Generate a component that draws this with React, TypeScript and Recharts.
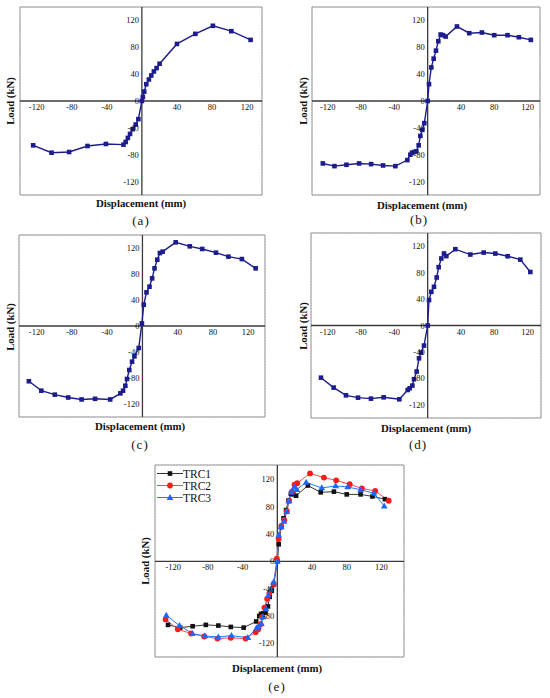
import React from 'react'
import {
  LineChart,
  Line,
  XAxis,
  YAxis,
  CartesianGrid,
  ReferenceLine,
  ReferenceArea,
  ReferenceDot,
} from 'recharts'

// tick labels and grid
const xTickLabels = [-120, -80, -40, 40, 80, 120]
const yTickLabels = [120, 80, 40, 0, -40, -80, -120]
const gridTicks = [-120, -100, -80, -60, -40, -20, 0, 20, 40, 60, 80, 100, 120]

// (a)
const aDisp = [-124, -103, -83, -62, -41, -21, -18.5, -16, -13.5, -10.5, -7, -4, 0, 1.1, 2.7, 5, 8, 10.7, 13.7, 16.8, 20.2, 40, 61, 81, 102, 124]
const aLoad = [-66, -77, -76, -67, -64, -65, -61, -55, -49, -42, -35, -27, 0, 6, 14, 25, 32, 38, 44, 49, 55.5, 85, 100, 112, 104, 91]

// (b) TRC1
const trc1Disp = [-126, -112, -97.6, -82.4, -68, -53.6, -38.8, -24.4, -20.8, -18.8, -16.4, -13.6, -10.8, -8.8, -6.4, -4, 0, 1.6, 4.4, 7.2, 10, 12.8, 15.6, 18.4, 21.6, 35.2, 50, 65.2, 80, 96, 109.6, 124]
const trc1Load = [-93, -97, -95, -93, -94, -96, -97, -88, -80, -77, -76, -75, -66, -52, -43, -33, 0, 25, 50, 63, 75, 89, 99, 98, 96, 111, 101, 102, 98, 98, 95, 91]

// (c) TRC2
const trc2Disp = [-128.8, -114.7, -99.4, -84.2, -69, -53.7, -36.6, -25, -22, -19.4, -17.5, -14.9, -11.8, -9.1, -4.2, -0.6, 1.5, 4.6, 8, 11, 13.7, 16.8, 19.8, 22.9, 37.7, 53.7, 67.8, 83.4, 97.5, 112.8, 128.4]
const trc2Load = [-85, -99.5, -105.6, -110, -113, -112, -113, -103.6, -99.5, -92, -81.5, -67.7, -54.9, -46.7, -33.8, 4, 32.8, 51.8, 60.5, 73.3, 88.7, 102, 112.3, 114.4, 128.7, 122.6, 118.5, 112.8, 106.7, 103, 88.7]

// (d) TRC3
const trc3Disp = [-128, -112.8, -98, -83.6, -68, -52.8, -34, -24, -21.6, -18.4, -16.4, -13.2, -10.4, -8, -4.4, 0, 1.6, 4.4, 7.6, 10.8, 13.2, 16.4, 19.6, 22.4, 33.2, 51.2, 67.2, 81.2, 96, 111.2, 123.2]
const trc3Load = [-79, -94, -105.7, -109.2, -110.7, -108.7, -111.7, -97.6, -95, -91, -81.3, -69.7, -49.6, -41, -30.4, 0, 38.5, 51, 58.6, 72.7, 88.3, 101.4, 109, 105, 115.5, 107.4, 110.4, 108.9, 104.8, 99.7, 81]

const SERIF = '"Liberation Serif", "DejaVu Serif", serif'
const NAVY = '#1c1c8e'

type Pt = { x: number; y: number }
type Marker = 'square' | 'circle' | 'triangle'

const toPoints = (xs: number[], ys: number[]): Pt[] => xs.map((x, i) => ({ x, y: ys[i] }))

interface SeriesDef {
  name: string
  data: Pt[]
  lineColor: string
  markColor: string
  marker: Marker
  width: number
}

const markerShape = (kind: Marker, color: string, key: string | number, cx: number, cy: number) => {
  if (kind === 'circle') return <circle key={key} cx={cx} cy={cy} r={2.9} fill={color} />
  if (kind === 'triangle')
    return (
      <polygon
        key={key}
        points={`${cx},${cy - 3.6} ${cx - 3.4},${cy + 2.4} ${cx + 3.4},${cy + 2.4}`}
        fill={color}
      />
    )
  return <rect key={key} x={cx - 2.3} y={cy - 2.3} width={4.6} height={4.6} fill={color} />
}

const makeDot = (kind: Marker, color: string) => (props: any) => {
  const { cx, cy, index } = props
  if (cx == null || cy == null) return <g key={`e-${index}`} />
  return markerShape(kind, color, `m-${index}`, cx, cy)
}

interface PanelProps {
  box: { l: number; t: number; r: number; b: number }
  xDomain: [number, number]
  yDomain: [number, number]
  series: SeriesDef[]
  tag: string
  yTitle: [number, number]
  xTitle: [number, number]
  tagPos: [number, number]
}

const tickStyle = { fontSize: 8.5, fontFamily: SERIF, fill: '#111' }

function Panel({ box, xDomain, yDomain, series, tag, yTitle, xTitle, tagPos }: PanelProps) {
  const m = 6
  const width = box.r - box.l + 2 * m
  const height = box.b - box.t + 2 * m
  return (
    <>
      <div style={{ position: 'absolute', left: box.l - m, top: box.t - m }}>
        <LineChart width={width} height={height} margin={{ top: m, right: m, bottom: m, left: m }}>
          <XAxis
            type="number"
            dataKey="x"
            domain={xDomain}
            ticks={gridTicks}
            allowDataOverflow
            tick={false}
            tickLine={false}
            axisLine={false}
            height={0}
          />
          <YAxis
            type="number"
            dataKey="y"
            domain={yDomain}
            ticks={gridTicks}
            allowDataOverflow
            tick={false}
            tickLine={false}
            axisLine={false}
            width={0}
          />
          <CartesianGrid stroke="#bdbdbd" strokeDasharray="1.5 1.5" strokeWidth={0.8} />
          <ReferenceArea
            x1={xDomain[0]}
            x2={xDomain[1]}
            y1={yDomain[0]}
            y2={yDomain[1]}
            fill="none"
            fillOpacity={0}
            stroke="#9a9a9a"
            strokeWidth={1}
          />
          <ReferenceLine x={0} stroke="#3a3a3a" strokeWidth={1.3} />
          <ReferenceLine y={0} stroke="#3a3a3a" strokeWidth={1.3} />
          {xTickLabels.map((v) => (
            <ReferenceDot
              key={`xt-${v}`}
              x={v}
              y={0}
              r={0}
              fill="none"
              stroke="none"
              label={{ value: String(v), position: 'bottom', offset: 3, ...tickStyle }}
            />
          ))}
          {yTickLabels.map((v) => (
            <ReferenceDot
              key={`yt-${v}`}
              x={0}
              y={v}
              r={0}
              fill="none"
              stroke="none"
              label={{ value: String(v), position: 'left', offset: 3, ...tickStyle }}
            />
          ))}
          {series.map((s) => (
            <Line
              key={s.name}
              data={s.data}
              dataKey="y"
              name={s.name}
              type="linear"
              stroke={s.lineColor}
              strokeWidth={s.width}
              dot={makeDot(s.marker, s.markColor)}
              activeDot={false}
              isAnimationActive={false}
            />
          ))}
        </LineChart>
      </div>
      <div
        style={{
          position: 'absolute',
          left: yTitle[0],
          top: yTitle[1],
          transform: 'translate(-50%, -50%) rotate(-90deg)',
          fontFamily: SERIF,
          fontWeight: 'bold',
          fontSize: 10.8,
          whiteSpace: 'nowrap',
          color: '#111',
        }}
      >
        Load (kN)
      </div>
      <div
        style={{
          position: 'absolute',
          left: xTitle[0],
          top: xTitle[1],
          transform: 'translate(-50%, -50%)',
          fontFamily: SERIF,
          fontWeight: 'bold',
          fontSize: 10.8,
          whiteSpace: 'nowrap',
          color: '#111',
        }}
      >
        Displacement (mm)
      </div>
      <div
        style={{
          position: 'absolute',
          left: tagPos[0],
          top: tagPos[1],
          transform: 'translate(-50%, -50%)',
          fontFamily: SERIF,
          fontSize: 13,
          letterSpacing: 1,
          whiteSpace: 'nowrap',
          color: '#111',
        }}
      >
        {tag}
      </div>
    </>
  )
}

const single = (name: string, data: Pt[]): SeriesDef[] => [
  { name, data, lineColor: NAVY, markColor: NAVY, marker: 'square', width: 1.4 },
]

const combined: SeriesDef[] = [
  { name: 'TRC1', data: toPoints(trc1Disp, trc1Load), lineColor: '#333333', markColor: '#111111', marker: 'square', width: 1 },
  { name: 'TRC2', data: toPoints(trc2Disp, trc2Load), lineColor: '#ff4d4d', markColor: '#ff1a1a', marker: 'circle', width: 1 },
  { name: 'TRC3', data: toPoints(trc3Disp, trc3Load), lineColor: '#1f7bff', markColor: '#1a66ff', marker: 'triangle', width: 1 },
]

function ComboLegend() {
  const rows = [473.5, 485.5, 497.5]
  return (
    <svg style={{ position: 'absolute', left: 150, top: 463 }} width={70} height={42}>
      {combined.map((s, i) => {
        const y = rows[i] - 463
        return (
          <g key={s.name}>
            <line x1={7} x2={33} y1={y} y2={y} stroke={s.lineColor} strokeWidth={1} />
            {markerShape(s.marker, s.markColor, s.name, 20, y)}
            <text x={33} y={y} dominantBaseline="central" fontFamily={SERIF} fontSize={11.5} fill="#111">
              {s.name}
            </text>
          </g>
        )
      })}
    </svg>
  )
}

export default function App() {
  return (
    <div style={{ position: 'absolute', left: 0, top: 0, width: 550, height: 698, background: '#fff' }}>
      <Panel
        box={{ l: 20, t: 7, r: 262, b: 195 }}
        xDomain={[-139, 137]}
        yDomain={[-140, 140]}
        series={single('a', toPoints(aDisp, aLoad))}
        tag="(a)"
        yTitle={[10, 101]}
        xTitle={[141, 203]}
        tagPos={[141, 221]}
      />
      <Panel
        box={{ l: 312, t: 7, r: 540, b: 195 }}
        xDomain={[-139, 135]}
        yDomain={[-140, 140]}
        series={single('b', toPoints(trc1Disp, trc1Load))}
        tag="(b)"
        yTitle={[303, 101]}
        xTitle={[422, 205]}
        tagPos={[419, 220]}
      />
      <Panel
        box={{ l: 19, t: 235, r: 265, b: 417 }}
        xDomain={[-140, 139]}
        yDomain={[-140, 140]}
        series={single('c', toPoints(trc2Disp, trc2Load))}
        tag="(c)"
        yTitle={[10, 327]}
        xTitle={[140, 426]}
        tagPos={[140, 445]}
      />
      <Panel
        box={{ l: 311, t: 233, r: 541, b: 418 }}
        xDomain={[-140, 136]}
        yDomain={[-140, 140]}
        series={single('d', toPoints(trc3Disp, trc3Load))}
        tag="(d)"
        yTitle={[303, 326]}
        xTitle={[426, 428]}
        tagPos={[418, 445]}
      />
      <Panel
        box={{ l: 155, t: 465, r: 404, b: 657 }}
        xDomain={[-141, 146]}
        yDomain={[-140, 141]}
        series={combined}
        tag="(e)"
        yTitle={[145, 561]}
        xTitle={[277, 668]}
        tagPos={[277, 687]}
      />
      <ComboLegend />
    </div>
  )
}
